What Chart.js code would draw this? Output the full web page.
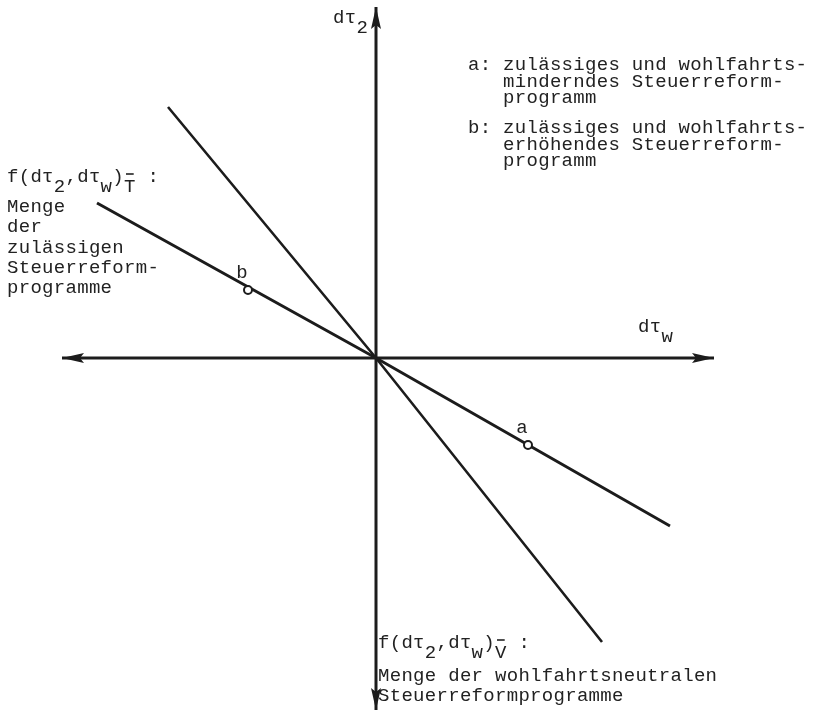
<!DOCTYPE html>
<html>
<head>
<meta charset="utf-8">
<script src="https://cdn.jsdelivr.net/npm/chart.js@4/dist/chart.umd.min.js"></script>
<style>
  body { margin: 0; background: #fff; }
  #wrap { width: 813px; height: 711px; }
</style>
</head>
<body>
<div id="wrap"><canvas id="chart" width="813" height="711"></canvas></div>
<script>
// Axes (ends of the arrows)
const horizAxisX = [-314, 338];
const vertAxisY = [351, -352];

// f(dτ2,dτw)T : Menge der zulässigen Steuerreformprogramme
const lineTX = [-279, 0, 294];
const lineTY = [155, 0, -168];

// f(dτ2,dτw)V : Menge der wohlfahrtsneutralen Steuerreformprogramme
const lineVX = [-208, 0, 226];
const lineVY = [251, 0, -284];

// marked programmes
const pointNames = ['a', 'b'];
const pointX = [152, -128];
const pointY = [-87, 68];

const ink = '#1c1c1c';
const textInk = '#222';

// arrowhead, tip in the middle of the canvas, pointing right
const arrowLen = 22;
const arrowHead = document.createElement('canvas');
arrowHead.width = arrowLen * 2;
arrowHead.height = 12;
const actx = arrowHead.getContext('2d');
actx.fillStyle = ink;
actx.beginPath();
actx.moveTo(arrowLen, 6);
actx.lineTo(0, 1);
actx.lineTo(4, 6);
actx.lineTo(0, 11);
actx.closePath();
actx.fill();

function toPoints(xs, ys) {
    return xs.map((x, i) => ({ x: x, y: ys[i] }));
}

// text drawn in typewriter style
const FONT = '19px "Liberation Mono", "DejaVu Sans Mono", monospace';
const PITCH = 11.7;

function drawRich(ctx, x, y, segments) {
    let cx = x;
    segments.forEach(seg => {
        const txt = seg[0];
        const dy = seg[1] || 0;
        for (const ch of txt) {
            ctx.fillText(ch, cx, y + dy);
            cx += PITCH;
        }
        if (seg[2]) {
            // overbar
            ctx.save();
            ctx.strokeStyle = textInk;
            ctx.lineWidth = 1.6;
            ctx.beginPath();
            ctx.moveTo(cx - PITCH + 2, y + dy - 13);
            ctx.lineTo(cx - 2, y + dy - 13);
            ctx.stroke();
            ctx.restore();
        }
    });
}

function drawLines(ctx, x, y, lines, step, indent) {
    lines.forEach((l, i) => {
        drawRich(ctx, x + (i > 0 ? indent || 0 : 0), y + i * step, [[l]]);
    });
}

const labelPlugin = {
    id: 'labels',
    afterDraw(chart) {
        const ctx = chart.ctx;
        const xs = chart.scales.x;
        const ys = chart.scales.y;
        ctx.save();
        ctx.font = FONT;
        ctx.fillStyle = textInk;
        ctx.textBaseline = 'middle';
        ctx.textAlign = 'left';

        // axis titles
        drawRich(ctx, 333, 18, [['dτ'], ['2', 10]]);
        drawRich(ctx, 638, 327, [['dτ'], ['w', 10]]);

        // legend top right
        drawLines(ctx, 468, 65, ['a: zulässiges und wohlfahrts-', 'minderndes Steuerreform-', 'programm'], 16.7, 3 * PITCH);
        drawLines(ctx, 468, 128, ['b: zulässiges und wohlfahrts-', 'erhöhendes Steuerreform-', 'programm'], 16.7, 3 * PITCH);

        // left label
        drawRich(ctx, 7, 177, [['f(dτ'], ['2', 10], [',dτ'], ['w', 10], [')'], ['T', 10, true], [' :']]);
        drawLines(ctx, 7, 207, ['Menge', 'der', 'zulässigen', 'Steuerreform-', 'programme'], 20.3, 0);

        // bottom label
        drawRich(ctx, 378, 643, [['f(dτ'], ['2', 10], [',dτ'], ['w', 10], [')'], ['V', 10, true], [' :']]);
        drawLines(ctx, 378, 676, ['Menge der wohlfahrtsneutralen', 'Steuerreformprogramme'], 20, 0);

        // point names
        ctx.textAlign = 'center';
        pointNames.forEach((n, i) => {
            const px = xs.getPixelForValue(pointX[i]);
            const py = ys.getPixelForValue(pointY[i]);
            ctx.fillText(n, px - 6, py - 17);
        });
        ctx.restore();
    }
};

const chart = new Chart(document.getElementById('chart'), {
    type: 'scatter',
    data: {
        datasets: [
            {
                label: 'Programme',
                data: toPoints(pointX, pointY),
                pointStyle: 'circle',
                pointRadius: 4,
                pointBackgroundColor: '#fff',
                pointBorderColor: ink,
                pointBorderWidth: 2,
                showLine: false
            },
            {
                label: 'T',
                data: toPoints(lineTX, lineTY),
                showLine: true,
                borderColor: ink,
                borderWidth: 3,
                pointRadius: 0
            },
            {
                label: 'V',
                data: toPoints(lineVX, lineVY),
                showLine: true,
                borderColor: ink,
                borderWidth: 2.6,
                pointRadius: 0
            },
            {
                label: 'dτw',
                data: toPoints(horizAxisX, [0, 0]),
                showLine: true,
                borderColor: ink,
                borderWidth: 3,
                pointStyle: arrowHead,
                pointRadius: 1,
                pointRotation: [180, 0]
            },
            {
                label: 'dτ2',
                data: toPoints([0, 0], vertAxisY),
                showLine: true,
                borderColor: ink,
                borderWidth: 3,
                pointStyle: arrowHead,
                pointRadius: 1,
                pointRotation: [-90, 90]
            }
        ]
    },
    options: {
        responsive: false,
        animation: false,
        layout: { padding: 0, autoPadding: false },
        plugins: {
            legend: { display: false },
            tooltip: { enabled: false }
        },
        scales: {
            x: { type: 'linear', min: -376, max: 437, display: false },
            y: { type: 'linear', min: -353, max: 358, display: false }
        }
    },
    plugins: [labelPlugin]
});
</script>
</body>
</html>
